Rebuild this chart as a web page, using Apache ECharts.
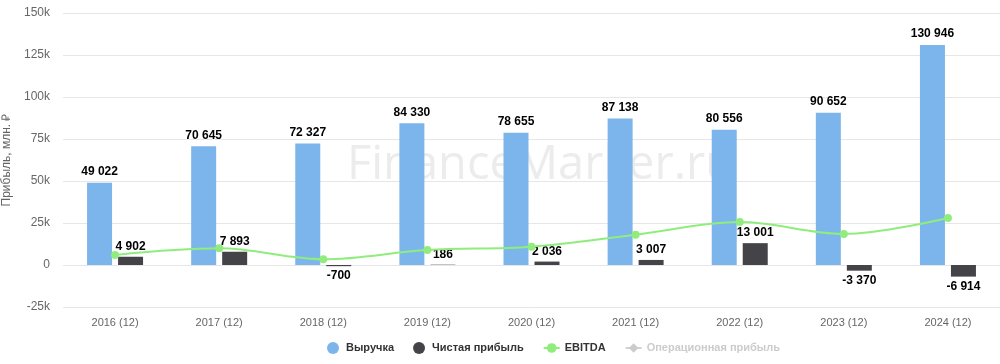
<!DOCTYPE html>
<html>
<head>
<meta charset="utf-8">
<script src="https://cdn.jsdelivr.net/npm/echarts@6/dist/echarts.min.js"></script>
<style>html,body{margin:0;padding:0;background:#fff;}#chart{width:1000px;height:364px;}</style>
</head>
<body>
<div id="chart"></div>
<script>
var categories = ['2016 (12)','2017 (12)','2018 (12)','2019 (12)','2020 (12)','2021 (12)','2022 (12)','2023 (12)','2024 (12)'];
var revenue = [49022, 70645, 72327, 84330, 78655, 87138, 80556, 90652, 130946];
var netProfit = [4902, 7893, -700, 186, 2036, 3007, 13001, -3370, -6914];
var ebitda = [6000, 9900, 3400, 8900, 10900, 18000, 25600, 18500, 28000];
var operatingProfit = [];
var seriesNames = ['Выручка', 'Чистая прибыль', 'EBITDA', 'Операционная прибыль'];

function fmt(v) {
  var s = String(Math.abs(v)).replace(/\B(?=(\d{3})+(?!\d))/g, ' ');
  return (v < 0 ? '-' : '') + s;
}
function yfmt(v) {
  if (v === 0) return '0';
  return (v / 1000) + 'k';
}
var FF = 'Liberation Sans, Arial, sans-serif';
var labelStyle = {
  show: true, color: '#000', fontFamily: FF,
  fontWeight: 'bold', fontSize: 12, textBorderColor: '#fff', textBorderWidth: 1,
  formatter: function (p) { return fmt(p.value); }
};

var chart = echarts.init(document.getElementById('chart'));
chart.setOption({
  animation: false,
  backgroundColor: '#fff',
  graphic: [{
    type: 'text', left: 347, top: 142, z: 0, silent: true,
    style: { text: 'FinanceMarker.ru', fill: '#ececec', font: '47px "Open Sans", "DejaVu Sans", sans-serif' }
  }],
  grid: { left: 63, right: 0, top: 13, bottom: 57, containLabel: false, outerBoundsMode: 'none' },
  legend: {
    bottom: 5, left: 322, itemGap: 19, itemWidth: 16, itemHeight: 12,
    textStyle: { color: '#333', fontWeight: 'bold', fontSize: 11, fontFamily: FF },
    inactiveColor: '#cccccc',
    data: [
      { name: seriesNames[0], icon: 'circle' },
      { name: seriesNames[1], icon: 'circle' },
      { name: seriesNames[2] },
      { name: seriesNames[3] }
    ],
    selected: { 'Операционная прибыль': false }
  },
  xAxis: {
    type: 'category', data: categories,
    axisLine: { show: false }, axisTick: { show: false },
    axisLabel: { color: '#666', fontSize: 11, margin: 10, fontFamily: FF }
  },
  yAxis: {
    type: 'value', min: -25000, max: 150000, interval: 25000,
    name: 'Прибыль, млн. ₽', nameLocation: 'middle', nameGap: 47, nameRotate: 90,
    nameTextStyle: { color: '#666', fontSize: 12, fontFamily: FF },
    axisLabel: { color: '#666', fontSize: 12, margin: 13, formatter: yfmt, fontFamily: FF },
    splitLine: { lineStyle: { color: '#e6e6e6' } },
    axisLine: { show: false }, axisTick: { show: false }
  },
  series: [
    {
      name: seriesNames[0], type: 'bar', data: revenue, barWidth: 25, barGap: '24%',
      itemStyle: { color: '#7cb5ec' },
      label: Object.assign({}, labelStyle, { position: 'top', distance: 5 }), z: 2
    },
    {
      name: seriesNames[1], type: 'bar', barWidth: 25,
      data: netProfit.map(function (v) {
        return { value: v, label: { position: v < 0 ? 'bottom' : 'top' } };
      }),
      itemStyle: { color: '#434348' },
      label: Object.assign({}, labelStyle, { distance: 4 }), z: 2
    },
    {
      name: seriesNames[2], type: 'line', data: ebitda, smooth: 0.35,
      symbol: 'circle', symbolSize: 8,
      itemStyle: { color: '#90ed7d' }, lineStyle: { color: '#90ed7d', width: 2 }, z: 3
    },
    {
      name: seriesNames[3], type: 'line', data: operatingProfit,
      symbol: 'diamond', symbolSize: 8,
      itemStyle: { color: '#f7a35c' }, lineStyle: { color: '#f7a35c', width: 2 }
    }
  ]
});
</script>
</body>
</html>
